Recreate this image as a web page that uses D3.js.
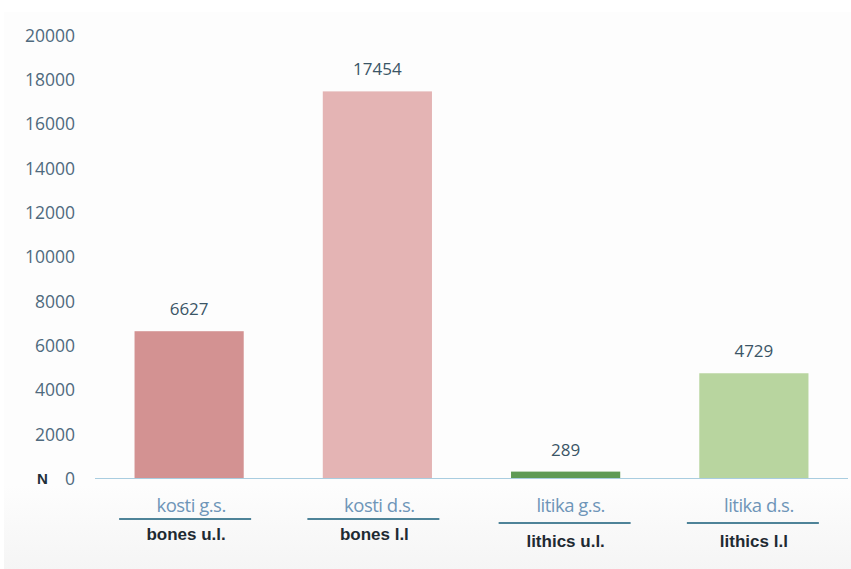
<!DOCTYPE html>
<html><head><meta charset="utf-8">
<script src="https://cdn.jsdelivr.net/npm/d3@7"></script>
<style>body{margin:0;background:#fff}svg{display:block}</style>
</head><body>
<svg id="c" width="851" height="569"></svg>
<script>
const categories = ["kosti g.s.", "kosti d.s.", "litika g.s.", "litika d.s."];
const englishLabels = ["bones u.l.", "bones l.l", "lithics u.l.", "lithics l.l"];
const values = [6627, 17454, 289, 4729];
const barColors = ["#d39292", "#e4b4b4", "#5f9a55", "#b8d59f"];
const yTicks = [0, 2000, 4000, 6000, 8000, 10000, 12000, 14000, 16000, 18000, 20000];

const svg = d3.select("#c");
const defs = svg.append("defs");
const g1 = defs.append("linearGradient").attr("id","bg").attr("x1",0).attr("y1",0).attr("x2",0).attr("y2",1);
g1.append("stop").attr("offset","0").attr("stop-color","#fdfdfd");
g1.append("stop").attr("offset","0.85").attr("stop-color","#fdfdfd");
g1.append("stop").attr("offset","1").attr("stop-color","#f5f5f5");
svg.append("rect").attr("x",4).attr("y",12).attr("width",847).attr("height",557).attr("fill","url(#bg)");

const x = d3.scaleBand().domain(categories).range([95, 848]).paddingInner(0.42).paddingOuter(0.21);
const y = d3.scaleLinear().domain([0, 20000]).range([478, 35]);

// y axis labels
const yAxis = d3.axisLeft(y).tickValues(yTicks).tickSize(0).tickPadding(0).tickFormat(d3.format("d"));
const ya = svg.append("g").attr("transform","translate(75,0)").call(yAxis);
ya.select(".domain").remove();
ya.selectAll("text").attr("font-family","'Open Sans', sans-serif").attr("font-size",17.5).attr("fill","#4f6a7e").attr("dy","0.36em");

svg.append("text").attr("x",37).attr("y",y(0)+6).text("N")
  .attr("font-family","'Liberation Sans', Arial, sans-serif").attr("font-weight","bold")
  .attr("font-size",15).attr("fill","#1f2f38");

// bars
svg.append("g").selectAll("rect").data(values).join("rect")
  .attr("x",(d,i)=>x(categories[i]))
  .attr("width",x.bandwidth())
  .attr("y",d=>y(d))
  .attr("height",d=>y(0)-y(d))
  .attr("fill",(d,i)=>barColors[i]);

// x axis line
const xAxis = d3.axisBottom(x).tickSize(0).tickFormat("");
const xa = svg.append("g").attr("transform",`translate(0,${y(0)})`).call(xAxis);
xa.select(".domain").attr("stroke","#a9cde0").attr("stroke-width",1.2).attr("d","M95,0.5H848");

// value labels
svg.append("g").selectAll("text").data(values).join("text")
  .attr("x",(d,i)=>x(categories[i])+x.bandwidth()/2)
  .attr("y",d=>y(d)-16)
  .attr("text-anchor","middle")
  .attr("font-family","'Open Sans', sans-serif").attr("font-size",17)
  .attr("fill","#3b5566")
  .text(d=>d);

// category labels
const lab = svg.append("g");
categories.forEach((c,i)=>{
  const cx = x(c)+x.bandwidth()/2 - (i<2?4:1);
  const off = i<2?0:4;
  lab.append("text").attr("x",cx+6).attr("y",512).attr("text-anchor","middle")
    .attr("font-family","'Open Sans', sans-serif").attr("font-size",18.5)
    .attr("fill","#6e95b8").attr("letter-spacing",-0.5).text(c);
  lab.append("line").attr("x1",cx-66).attr("x2",cx+66).attr("y1",519+off).attr("y2",519+off)
    .attr("stroke","#4e8398").attr("stroke-width",2);
  lab.append("text").attr("x",cx+1).attr("y",540+(i<2?0:7)).attr("text-anchor","middle")
    .attr("font-family","'Liberation Sans Narrow', 'Arial Narrow', sans-serif").attr("font-size",17)
    .attr("font-weight","bold").attr("fill","#1e2a32").text(englishLabels[i]);
});
</script>
</body></html>
